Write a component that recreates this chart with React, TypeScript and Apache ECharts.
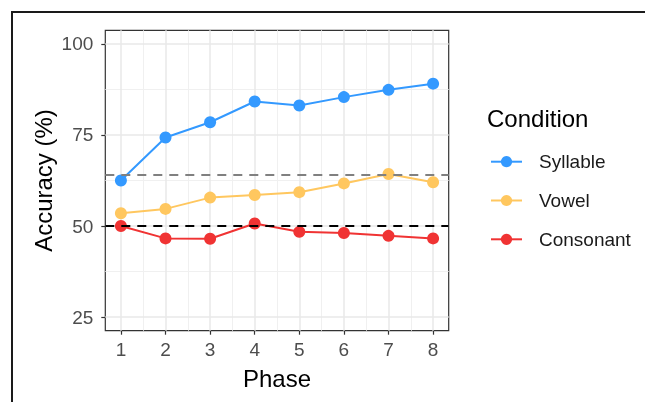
import React, { useEffect, useRef } from "react";
import * as echarts from "echarts";

const phases = [1, 2, 3, 4, 5, 6, 7, 8];
const syllable = [62.5, 74.3, 78.5, 84.2, 83.1, 85.4, 87.4, 89.1];
const vowel = [53.5, 54.7, 57.8, 58.5, 59.3, 61.7, 64.3, 62.0];
const consonant = [50.0, 46.6, 46.5, 50.7, 48.4, 48.1, 47.3, 46.6];
const xTicks = [1, 2, 3, 4, 5, 6, 7, 8];
const xMinor = [1.5, 2.5, 3.5, 4.5, 5.5, 6.5, 7.5];
const yTicks = [25, 50, 75, 100];
const yMinor = [37.5, 62.5, 87.5];
const chanceLine = 50;
const thresholdLine = 64;

const FONT = "'Liberation Sans', Arial, sans-serif";

export default function App() {
  const ref = useRef<HTMLDivElement>(null);
  useEffect(() => {
    if (!ref.current) return;
    const chart = echarts.init(ref.current, undefined, { renderer: "svg" });
    const pairs = (vals: number[]) => phases.map((p, i) => [p, vals[i]]);
    const gridData: any[] = [
      ...xMinor.map((v) => ({ xAxis: v, lineStyle: { color: "#f0f0f0", width: 1, type: "solid" } })),
      ...yMinor.map((v) => ({ yAxis: v, lineStyle: { color: "#f0f0f0", width: 1, type: "solid" } })),
      ...xTicks.map((v) => ({ xAxis: v, lineStyle: { color: "#e8e8e8", width: 1.5, type: "solid" } })),
      ...yTicks.map((v) => ({ yAxis: v, lineStyle: { color: "#e8e8e8", width: 1.5, type: "solid" } })),
    ];
    const mk = (name: string, vals: number[], color: string, extra: any = {}) => ({
      name,
      type: "line",
      data: pairs(vals),
      symbol: "circle",
      symbolSize: 12,
      itemStyle: { color },
      lineStyle: { color, width: 2 },
      emphasis: { disabled: true },
      z: 3,
      ...extra,
    });
    chart.setOption({
      animation: false,
      textStyle: { fontFamily: FONT },
      grid: {
        left: 105.3,
        top: 30.3,
        right: 645 - 448.7,
        bottom: 402 - 330.7,
        show: true,
        borderColor: "#333333",
        borderWidth: 1.2,
        backgroundColor: "transparent",
        containLabel: false,
      },
      xAxis: {
        type: "value",
        min: 0.65,
        max: 8.35,
        axisLine: { show: false },
        splitLine: { show: false },
        axisTick: { show: true, length: 4, customValues: xTicks, lineStyle: { color: "#333333", width: 1.2 } },
        axisLabel: { customValues: xTicks, color: "#4d4d4d", fontSize: 19, margin: 9, fontFamily: FONT },
      },
      yAxis: {
        type: "value",
        min: 21.25,
        max: 103.75,
        axisLine: { show: false },
        splitLine: { show: false },
        axisTick: { show: true, length: 4, customValues: yTicks, lineStyle: { color: "#333333", width: 1.2 } },
        axisLabel: { customValues: yTicks, color: "#4d4d4d", fontSize: 19, margin: 12, fontFamily: FONT },
      },
      legend: {
        orient: "vertical",
        left: 490,
        top: 152.2,
        padding: 0,
        itemWidth: 31,
        itemHeight: 14,
        itemGap: 19.8,
        selectedMode: false,
        textStyle: { fontSize: 19, color: "#1a1a1a", fontFamily: FONT, padding: [0, 0, 0, 12] },
        data: ["Syllable", "Vowel", "Consonant"],
      },
      graphic: [
        { type: "line", shape: { x1: 11, y1: 12, x2: 645, y2: 12 }, style: { stroke: "#1a1a1a", lineWidth: 2 } },
        { type: "line", shape: { x1: 12, y1: 11, x2: 12, y2: 402 }, style: { stroke: "#1a1a1a", lineWidth: 2 } },
        {
          type: "text",
          x: 43,
          y: 180.5,
          rotation: Math.PI / 2,
          style: { text: "Accuracy (%)", fontSize: 24, fontFamily: FONT, fill: "#000", align: "center", verticalAlign: "middle" },
        },
        {
          type: "text",
          x: 277,
          y: 378,
          style: { text: "Phase", fontSize: 24, fontFamily: FONT, fill: "#000", align: "center", verticalAlign: "middle" },
        },
        {
          type: "text",
          x: 487,
          y: 118.3,
          style: { text: "Condition", fontSize: 24, fontFamily: FONT, fill: "#000", align: "left", verticalAlign: "middle" },
        },
      ],
      series: [
        mk("Syllable", syllable, "#3399FF", {
          markLine: { silent: true, symbol: "none", z: 1, label: { show: false }, emphasis: { disabled: true }, data: gridData },
        }),
        mk("Vowel", vowel, "#FFC75F"),
        mk("Consonant", consonant, "#F03333", {
          markLine: {
            silent: true,
            symbol: "none",
            z: 5,
            label: { show: false },
            emphasis: { disabled: true },
            data: [
              { yAxis: thresholdLine, lineStyle: { color: "#808080", width: 2, type: [9, 7] } },
              { yAxis: chanceLine, lineStyle: { color: "#000000", width: 2, type: [9, 7] } },
            ],
          },
        }),
      ],
    });
    return () => chart.dispose();
  }, []);
  return <div ref={ref} style={{ position: "fixed", left: 0, top: 0, width: 645, height: 402 }} />;
}
